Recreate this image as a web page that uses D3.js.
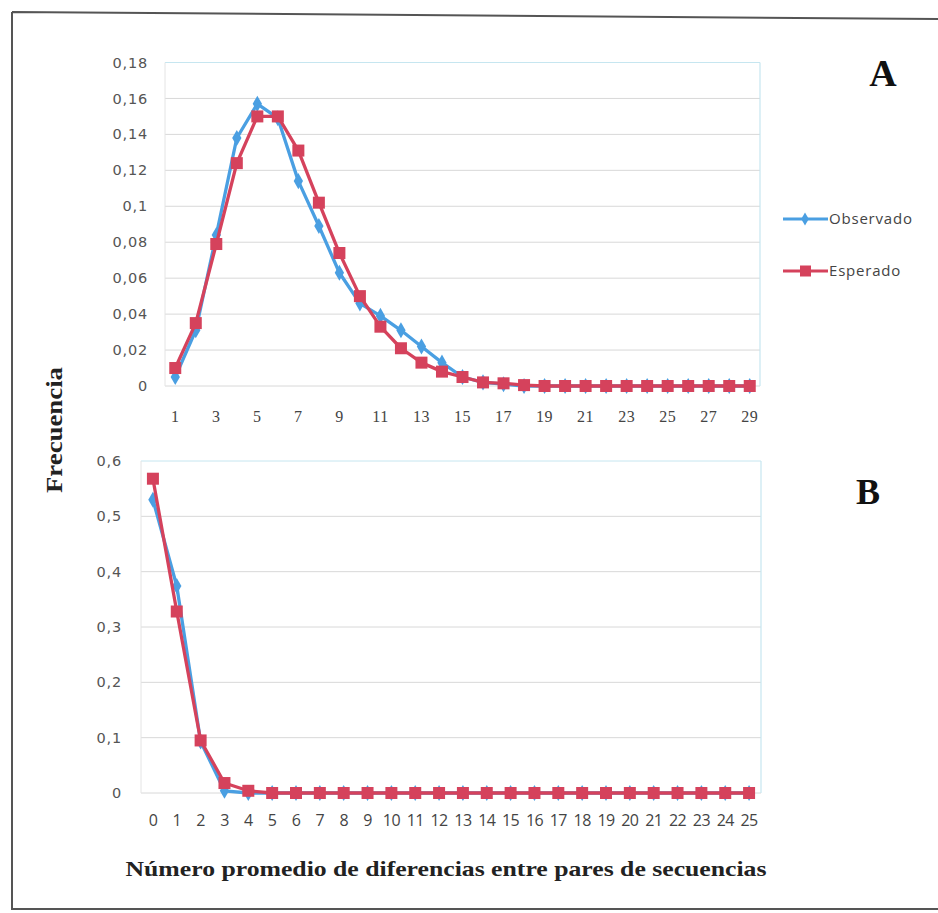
<!DOCTYPE html>
<html><head><meta charset="utf-8">
<script src="https://cdn.jsdelivr.net/npm/d3@7"></script>
<style>body{margin:0;background:#fff}svg{display:block}</style>
</head><body>
<script>
// Panel A data
const catsA = d3.range(1, 30);
const obsA = [0.005,0.031,0.084,0.138,0.157,0.149,0.114,0.089,0.063,0.046,0.039,0.031,0.022,0.013,0.005,0.002,0.001,0.0,0,0,0,0,0,0,0,0,0,0,0];
const espA = [0.010,0.035,0.079,0.124,0.150,0.150,0.131,0.102,0.074,0.050,0.033,0.021,0.013,0.008,0.005,0.002,0.0015,0.0005,0,0,0,0,0,0,0,0,0,0,0];
const yTicksA = [0,0.02,0.04,0.06,0.08,0.1,0.12,0.14,0.16,0.18];
const xLabelsA = d3.range(1, 30, 2);
// Panel B data
const catsB = d3.range(0, 26);
const obsB = [0.530,0.374,0.093,0.004,0,0,0,0,0,0,0,0,0,0,0,0,0,0,0,0,0,0,0,0,0,0];
const espB = [0.568,0.328,0.095,0.018,0.004,0,0,0,0,0,0,0,0,0,0,0,0,0,0,0,0,0,0,0,0,0];
const yTicksB = [0,0.1,0.2,0.3,0.4,0.5,0.6];
const seriesNames = ["Observado","Esperado"];
const colors = ["#4a9fe2","#d5425c"];

const W = 938, H = 913;
const svg = d3.select("body").append("svg").attr("width", W).attr("height", H);

// outer frame
svg.append("path").attr("d", `M12,12 L938,19 M12,12 L12,909 L938,909`)
  .attr("fill","none").attr("stroke","#555").attr("stroke-width",2);

const fmt = v => String(v).replace(".", ",");

function panel(cats, obs, esp, yTicks, xLabels, box, yMax, xFont, xLabY) {
  const x = d3.scalePoint().domain(cats).range([box.l, box.r]).padding(0.5);
  const y = d3.scaleLinear().domain([0, yMax]).range([box.b, box.t]);
  const g = svg.append("g");
  g.selectAll(".grid").data(yTicks).enter().append("line")
    .attr("x1", box.l).attr("x2", box.r)
    .attr("y1", d => y(d)).attr("y2", d => y(d))
    .attr("stroke", d => d === yMax ? "#c6e6f0" : "#d8d8d8").attr("stroke-width", 1);
  g.append("line").attr("x1", box.r).attr("x2", box.r).attr("y1", box.t).attr("y2", box.b)
    .attr("stroke", "#c6e6f0").attr("stroke-width", 1.2);
  g.append("line").attr("x1", box.l).attr("x2", box.l).attr("y1", box.t).attr("y2", box.b)
    .attr("stroke", "#e4e4e4").attr("stroke-width", 1);
  g.selectAll(".yl").data(yTicks).enter().append("text")
    .attr("x", box.l - box.yGap).attr("y", d => y(d)).attr("dy", "0.35em")
    .attr("text-anchor", "end").attr("font-family", "DejaVu Sans").attr("font-size", 14.5)
    .attr("letter-spacing", 0.8).attr("fill", "#555").text(fmt);
  g.selectAll(".xl").data(xLabels).enter().append("text")
    .attr("x", d => x(d)).attr("y", xLabY).attr("text-anchor", "middle")
    .attr("font-family", xFont).attr("font-size", box.xfs).attr("fill", "#444")
    .attr("letter-spacing", box.xls).text(d => d);
  const line = d3.line().x((d, i) => x(cats[i])).y(d => y(d));
  [obs, esp].forEach((vals, s) => {
    g.append("path").datum(vals).attr("d", line).attr("fill", "none")
      .attr("stroke", colors[s]).attr("stroke-width", 3.3).attr("stroke-linejoin", "round");
    if (s === 0) {
      g.selectAll(".m0").data(vals).enter().append("path")
        .attr("d", d3.symbol(d3.symbolDiamond, 75)())
        .attr("transform", (d, i) => `translate(${x(cats[i])},${y(d)})`)
        .attr("fill", colors[0]);
    } else {
      g.selectAll(".m1").data(vals).enter().append("rect")
        .attr("x", (d, i) => x(cats[i]) - 6).attr("y", d => y(d) - 6)
        .attr("width", 12).attr("height", 12).attr("fill", colors[1]);
    }
  });
}

panel(catsA, obsA, espA, yTicksA, xLabelsA, {l:165, r:760, t:62.5, b:386, yGap:17, xls:0.5, xfs:16}, 0.18, "Liberation Serif", 422);
panel(catsB, obsB, espB, yTicksB, catsB, {l:141, r:761, t:461, b:793, yGap:19, xls:-0.6, xfs:16}, 0.6, "Open Sans", 826);

// legend
const leg = svg.append("g");
seriesNames.forEach((n, i) => {
  const yy = 219 + i * 52;
  leg.append("line").attr("x1", 783).attr("x2", 828).attr("y1", yy).attr("y2", yy)
    .attr("stroke", colors[i]).attr("stroke-width", 3);
  if (i === 0) leg.append("path").attr("d", d3.symbol(d3.symbolDiamond, 50)()).attr("transform", `translate(805,${yy})`).attr("fill", colors[0]);
  else leg.append("rect").attr("x", 800).attr("y", yy - 5.5).attr("width", 11).attr("height", 11).attr("fill", colors[1]);
  leg.append("text").attr("x", 829).attr("y", yy).attr("dy", "0.35em")
    .attr("font-family", "Open Sans").attr("font-size", 15).attr("letter-spacing", 0.8)
    .attr("fill", "#444").text(n);
});

// panel letters
svg.append("text").attr("x", 883).attr("y", 86).attr("text-anchor", "middle")
  .attr("font-family", "Liberation Serif").attr("font-weight", "bold").attr("font-size", 38).attr("fill", "#111").text("A");
svg.append("text").attr("x", 868).attr("y", 504).attr("text-anchor", "middle")
  .attr("font-family", "Liberation Serif").attr("font-weight", "bold").attr("font-size", 36).attr("fill", "#111").text("B");

// axis titles
svg.append("text").attr("transform", "translate(62,430) rotate(-90)").attr("text-anchor", "middle")
  .attr("font-family", "Liberation Serif").attr("font-weight", "bold").attr("font-size", 23)
  .attr("textLength", 126).attr("lengthAdjust", "spacingAndGlyphs").attr("fill", "#222").text("Frecuencia");
svg.append("text").attr("x", 446).attr("y", 876).attr("text-anchor", "middle")
  .attr("font-family", "Liberation Serif").attr("font-weight", "bold").attr("font-size", 22)
  .attr("textLength", 641).attr("lengthAdjust", "spacingAndGlyphs").attr("fill", "#222")
  .text("Número promedio de diferencias entre pares de secuencias");
</script>
</body></html>
